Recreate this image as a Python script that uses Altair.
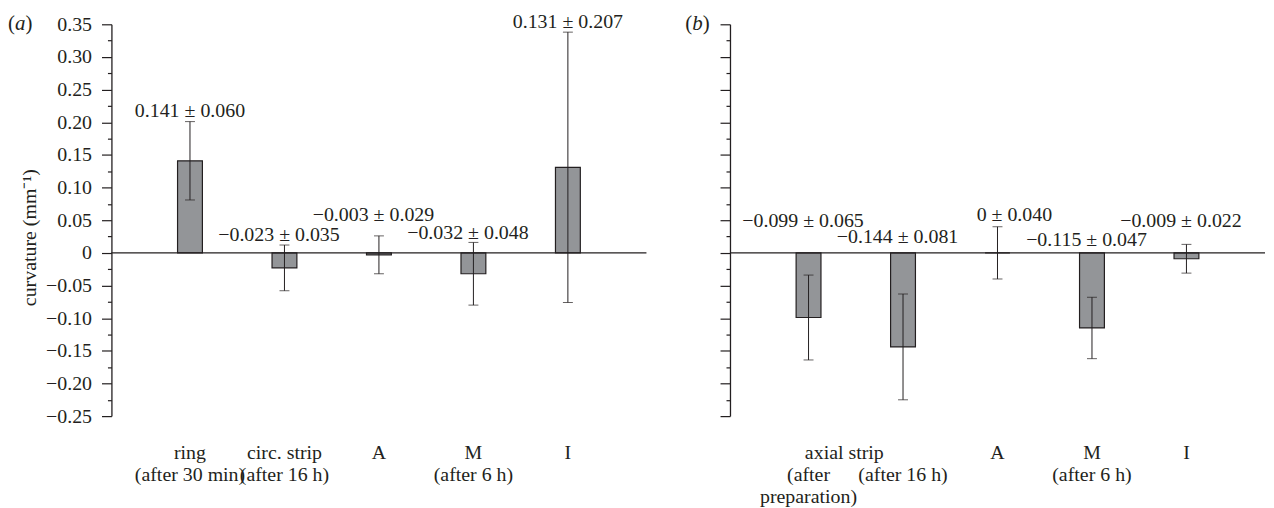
import altair as alt
import pandas as pd

FONT = "Liberation Serif"
INK = "#231f20"
BAR = "#939598"
FS = 20
TAG_FS = 21
W, H = 538, 394

# ---- data -------------------------------------------------------------
cats_a = ["ring\n(after 30 min)", "circ. strip\n(after 16 h)", "A", "M\n(after 6 h)", "I"]
mean_a = [0.141, -0.023, -0.003, -0.032, 0.131]
sd_a = [0.060, 0.035, 0.029, 0.048, 0.207]
label_y_a = [0.208, 0.018, 0.049, 0.021, 0.344]

cats_b = ["\n(after\npreparation)", "\n(after 16 h)", "A", "M\n(after 6 h)", "I"]
mean_b = [-0.099, -0.144, 0.0, -0.115, -0.009]
sd_b = [0.065, 0.081, 0.040, 0.047, 0.022]
label_y_b = [0.040, 0.015, 0.049, 0.011, 0.040]
group_label_b = "axial strip"

major_ticks = [-0.25, -0.20, -0.15, -0.10, -0.05, 0.0, 0.05, 0.10, 0.15, 0.20, 0.25, 0.30, 0.35]
minor_ticks = [-0.225, -0.175, -0.125, -0.075, -0.025, 0.025, 0.075, 0.125, 0.175, 0.225, 0.275, 0.325]
y_domain = [-0.25, 0.35]


def fmt(v):
    return "0" if v == 0 else f"{v:.3f}".replace("-", "\u2212")


def panel_tag(letter, left):
    """(letter) with upright parentheses and an italic letter."""
    def piece(txt, dx, style):
        return alt.Chart(pd.DataFrame({"t": [txt]})).mark_text(
            font=FONT, fontSize=TAG_FS, fontStyle=style, color=INK,
            align="left", baseline="middle", dx=dx,
        ).encode(x=alt.value(left), y=alt.value(0), text="t:N")
    return [piece("(", 0, "normal"), piece(letter, 7, "italic"),
            piece(")", 7 + 10.5, "normal")]


def panel(cats, means, sds, label_ys, letter, show_y_labels, group_label=None):
    df = pd.DataFrame({
        "cat": cats,
        "mean": means,
        "lo": [m - s for m, s in zip(means, sds)],
        "hi": [m + s for m, s in zip(means, sds)],
        "ly": label_ys,
        "label": [f"{fmt(m)} \u00b1 {s:.3f}" for m, s in zip(means, sds)],
    })
    yscale = alt.Scale(domain=y_domain, nice=False, zero=False)
    xenc = alt.X(
        "cat:N", sort=cats,
        scale=alt.Scale(paddingInner=0.737, paddingOuter=0.70),
        axis=alt.Axis(
            title=None, domain=False, ticks=False, tickSize=0, labelAngle=0,
            labelExpr="split(datum.label, '\\n')", labelFont=FONT,
            labelFontSize=FS, labelColor=INK, labelLineHeight=22,
            labelPadding=27, labelLimit=0, labelOverlap=False,
            labelBaseline="top",
        ),
    )
    major_axis = alt.Axis(
        values=major_ticks, orient="left", tickSize=10, tickWidth=1.2,
        tickColor=INK, domainColor=INK, domainWidth=1.3, grid=False,
        labels=show_y_labels, labelPadding=10, labelFont=FONT, labelFontSize=FS,
        labelColor=INK,
        labelExpr="datum.value == 0 ? '0' : format(datum.value, '.2f')",
        title="curvature (mm\u207b\u00b9)" if show_y_labels else None,
        titleFont=FONT, titleFontSize=FS, titleFontWeight="normal",
        titleColor=INK, titlePadding=6, titleY=214,
    )
    minor_axis = alt.Axis(
        values=minor_ticks, orient="left", tickSize=4, tickWidth=1.2,
        tickColor=INK, domain=False, labels=False, grid=False, title=None,
    )
    base = alt.Chart(df)
    bars = base.mark_bar(color=BAR, stroke=INK, strokeWidth=1.2).encode(
        x=xenc,
        y=alt.Y("mean:Q", scale=yscale, axis=major_axis),
        y2=alt.Y2(datum=0),
    )
    err = base.mark_rule(color=INK, strokeWidth=1).encode(
        x=xenc,
        y=alt.Y("lo:Q", scale=yscale, axis=minor_axis),
        y2="hi:Q",
    )
    cap_lo = base.mark_tick(color=INK, size=10, thickness=1).encode(
        x=xenc, y=alt.Y("lo:Q", scale=yscale, axis=None))
    cap_hi = base.mark_tick(color=INK, size=10, thickness=1).encode(
        x=xenc, y=alt.Y("hi:Q", scale=yscale, axis=None))
    zero = alt.Chart(pd.DataFrame({"z": [0.0]})).mark_rule(
        color=INK, strokeWidth=1.3).encode(
        y=alt.Y("z:Q", scale=yscale, axis=None))

    def lab(cond, dx):
        return base.transform_filter(cond).mark_text(
            font=FONT, fontSize=FS, color=INK, baseline="alphabetic", dx=dx
        ).encode(x=xenc, y=alt.Y("ly:Q", scale=yscale, axis=None), text="label:N")

    lab_pos = lab("datum.mean > 0", 0)
    lab_neg = lab("datum.mean < 0", -5.5)
    lab_zero = lab("datum.mean == 0", 17)

    layers = [bars, err, cap_lo, cap_hi, zero, lab_pos, lab_neg, lab_zero]
    layers += panel_tag(letter, -104 if show_y_labels else -45)
    if group_label:
        g = alt.Chart(pd.DataFrame({"cat": [cats[0]], "t": [group_label]})).mark_text(
            font=FONT, fontSize=FS, color=INK, baseline="top", dx=36,
        ).encode(x=xenc, y=alt.value(H + 27), text="t:N")
        layers.append(g)

    return alt.layer(*layers).resolve_scale(y="shared").resolve_axis(
        y="independent").properties(width=W, height=H)


pa = panel(cats_a, mean_a, sd_a, label_y_a, "a", True)
pb = panel(cats_b, mean_b, sd_b, label_y_b, "b", False, group_label_b)

chart = alt.hconcat(pa, pb, spacing=38).properties(
    padding={"left": 0, "top": 2, "right": 0, "bottom": 0},
    background="white",
).configure_view(stroke=None)

chart.save("out.html", embed_options={"renderer": "svg", "actions": False})
